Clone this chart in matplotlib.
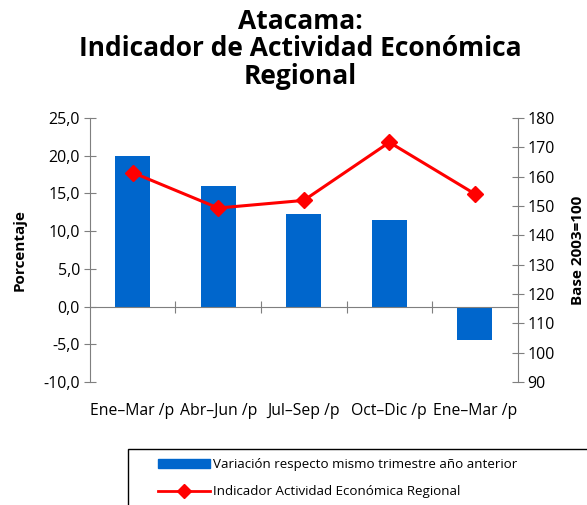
import numpy as np
import matplotlib
matplotlib.use("Agg")
import matplotlib.pyplot as plt
from matplotlib.patches import Rectangle

# data
periods = ["Ene\u2013Mar /p", "Abr\u2013Jun /p", "Jul\u2013Sep /p", "Oct\u2013Dic /p", "Ene\u2013Mar /p"]
variacion = [20.0, 16.0, 12.3, 11.5, -4.5]
indicador = [161.4, 149.3, 151.9, 171.7, 154.1]
left_ticks = [-10, -5, 0, 5, 10, 15, 20, 25]
left_labels = ["-10,0", "-5,0", "0,0", "5,0", "10,0", "15,0", "20,0", "25,0"]
right_ticks = [90, 100, 110, 120, 130, 140, 150, 160, 170, 180]

plt.rcParams['font.family'] = ['Open Sans', 'DejaVu Sans']

blue = "#0066CC"
red = "#FF0000"
gray = "#7f7f7f"

fig = plt.figure(figsize=(5.87, 5.05), dpi=100)
ax = fig.add_axes([0.153, 0.2436, 0.729, 0.5228])
x = np.arange(len(periods))

ax.bar(x, variacion, width=0.41, color=blue, zorder=2)
ax.set_xlim(-0.5, len(periods) - 0.5)
ax.set_ylim(-10, 25)
ax.set_yticks(left_ticks)
ax.set_yticklabels(left_labels, fontsize=11.5)
ax.tick_params(axis='y', direction='inout', length=8, color=gray, pad=3)

# zero line as x axis with ticks between categories
for s in ["top", "right"]:
    ax.spines[s].set_visible(False)
ax.spines["left"].set_color(gray)
ax.spines["bottom"].set_position(("data", 0))
ax.spines["bottom"].set_color(gray)
ax.set_xticks(x[:-1] + 0.5)
ax.set_xticklabels([])
ax.tick_params(axis='x', direction='inout', length=8, color=gray)

sec = ax.secondary_xaxis('bottom')
sec.set_xticks(x)
sec.set_xticklabels(periods, fontsize=11.3)
sec.tick_params(length=0, pad=15)
sec.spines["bottom"].set_visible(False)

ax.set_ylabel("Porcentaje", fontsize=11, fontweight='bold', labelpad=12)

ax2 = ax.twinx()
ax2.plot(x, indicador, color=red, lw=2.2, marker='D', markersize=8, zorder=3)
ax2.set_ylim(90, 180)
ax2.set_yticks(right_ticks)
ax2.tick_params(axis='y', direction='inout', length=8, color=gray, labelsize=11.5, pad=3)
for s in ["top", "left", "bottom"]:
    ax2.spines[s].set_visible(False)
ax2.spines["right"].set_color(gray)
ax2.set_ylabel("Base 2003=100", fontsize=11, fontweight='bold', labelpad=12)

fig.text(0.511, 0.984, "Atacama:\nIndicador de Actividad Econ\u00f3mica\nRegional",
         ha='center', va='top', fontsize=19, fontweight='bold', linespacing=1.02)

# legend box running off the figure edge
fig.patches.append(Rectangle((0.218, -0.05), 0.85, 0.161, transform=fig.transFigure,
                             fill=False, edgecolor='black', lw=1))
h1 = plt.Rectangle((0, 0), 1, 1, color=blue)
h2, = ax2.plot([], [], color=red, lw=2, marker='D', markersize=7)
fig.legend([h1, h2], ["Variaci\u00f3n respecto mismo trimestre a\u00f1o anterior",
                      "Indicador Actividad Econ\u00f3mica Regional"],
           loc='upper left', bbox_to_anchor=(0.269, 0.093), frameon=False,
           fontsize=9.6, handlelength=3.9, handleheight=0.6, handletextpad=0.2,
           labelspacing=1.05, borderaxespad=0, borderpad=0)

fig.savefig("out.png", dpi=100)
